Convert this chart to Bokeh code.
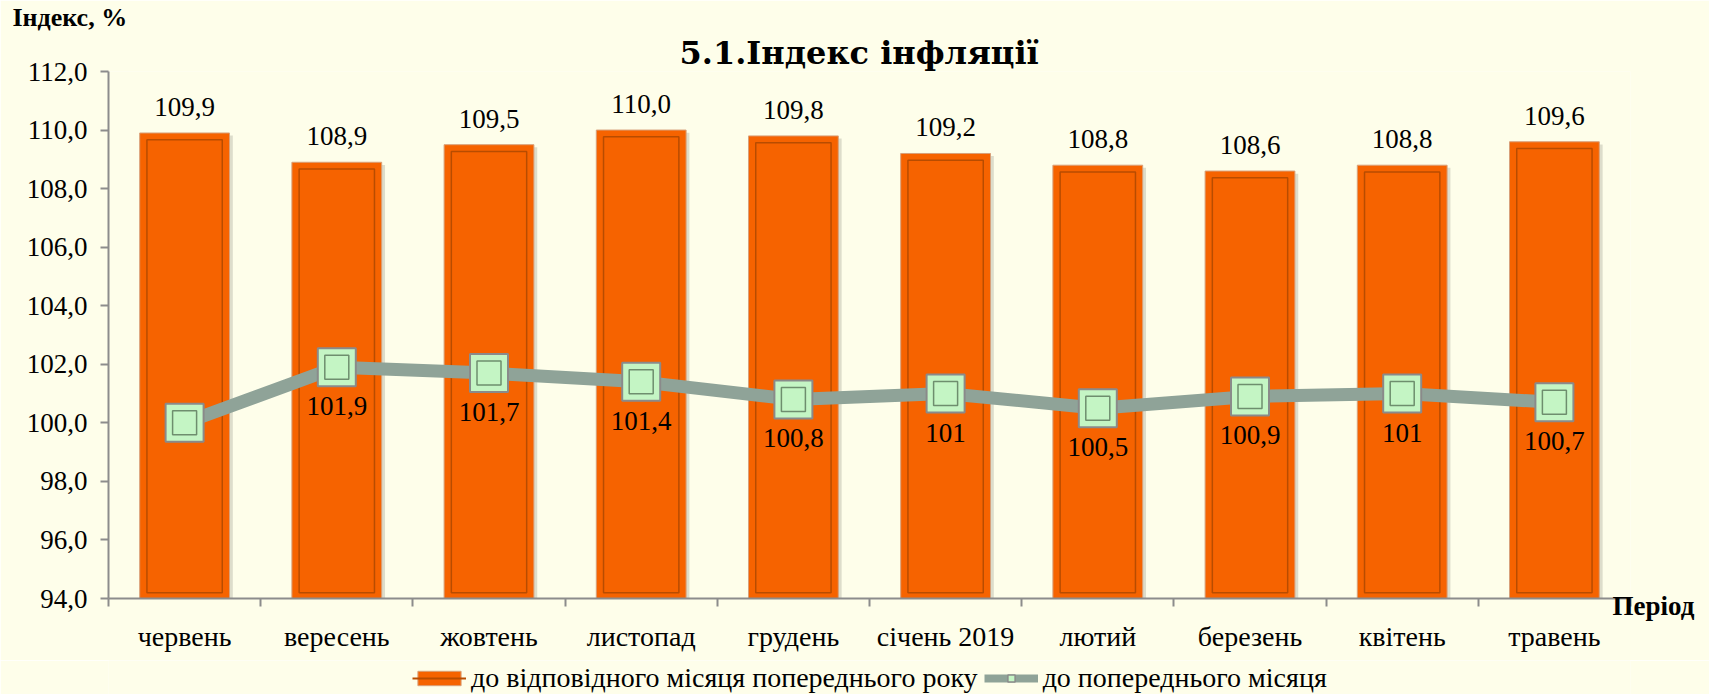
from bokeh.plotting import figure
from bokeh.layouts import column
from bokeh.models import (Range1d, FixedTicker, ColumnDataSource, LabelSet, Title,
                          Legend, LegendItem, LinearAxis)
from bokeh.core.properties import value
from bokeh.embed import file_html
from bokeh.resources import INLINE

# ---- data ----
months = ["червень", "вересень", "жовтень", "листопад", "грудень",
          "січень 2019", "лютий", "березень", "квітень", "травень"]
yoy = [109.9, 108.9, 109.5, 110.0, 109.8, 109.2, 108.8, 108.6, 108.8, 109.6]
mom = [100.0, 101.9, 101.7, 101.4, 100.8, 101.0, 100.5, 100.9, 101.0, 100.7]
mom_labels = ["", "101,9", "101,7", "101,4", "100,8", "101", "100,5", "100,9", "101", "100,7"]
y_ticks = [94, 96, 98, 100, 102, 104, 106, 108, 110, 112]
series_names = ["до відповідного місяця попереднього року", "до попереднього місяця"]

BG = "#FEFEEA"
ORANGE = "#F66300"
INNER = "#B84C00"
LINEC = "#8FA398"
MFILL = "#C4F5C4"
FONT = "'Liberation Serif', 'Times New Roman', serif"
TFONT = "'DejaVu Serif', serif"

xs = [i + 0.5 for i in range(len(months))]
yoy_labels = [f"{v:.1f}".replace(".", ",") for v in yoy]

src = ColumnDataSource(dict(
    x=xs, top=yoy, lab=yoy_labels,
    x_sh=[x + 0.022 for x in xs], top_sh=[t - 0.09 for t in yoy],
    top_in=[t - 0.23 for t in yoy],
    mom=mom, mlab=mom_labels,
))

p = figure(width=1709, height=660, output_backend="svg", toolbar_location=None,
           title="Індекс, %",
           x_range=Range1d(0, len(months)), y_range=Range1d(94, 112),
           min_border_left=108, min_border_right=79, min_border_top=70,
           min_border_bottom=62, background_fill_color=BG, border_fill_color=BG,
           outline_line_color=None)
p.xgrid.visible = False
p.ygrid.visible = False

p.title.align = "left"
p.title.offset = -96
p.title.standoff = 0
p.title.text_font = FONT
p.title.text_font_style = "bold"
p.title.text_font_size = "26px"
p.title.text_line_height = 0.85
p.title.text_color = "black"

p.add_layout(Title(text="5.1.Індекс інфляції", align="left", offset=571, standoff=0,
                   text_font=TFONT, text_font_style="bold", text_font_size="32px",
                   text_line_height=0.85, text_color="black"), "above")

# bar shadow
p.vbar(x="x_sh", top="top_sh", bottom=93, width=0.59, source=src,
       fill_color="#000000", fill_alpha=0.13, line_color=None)
p.vbar(x="x", top="top", bottom=93, width=0.59, source=src,
       fill_color=ORANGE, line_color="#D8A07A", line_width=1)
p.vbar(x="x", top="top_in", bottom=94.2, width=0.495, source=src,
       fill_color=None, line_color=INNER, line_width=1.5)

p.line(x="x", y="mom", source=src, line_color=LINEC, line_width=13, line_join="round")
p.scatter(x="x", y="mom", source=src, marker="square", size=38,
          fill_color=MFILL, line_color="#8A8A8A", line_width=2)
p.scatter(x="x", y="mom", source=src, marker="square", size=24,
          fill_color=None, line_color="#6E8E6E", line_width=1.5)

p.add_layout(LabelSet(x="x", y="top", text="lab", source=src, y_offset=26,
                      text_align="center", text_baseline="middle",
                      text_font=value(FONT), text_font_size="27px", text_color="black"))
p.add_layout(LabelSet(x="x", y="mom", text="mlab", source=src, y_offset=-39,
                      text_align="center", text_baseline="middle",
                      text_font=value(FONT), text_font_size="27px", text_color="black"))

# axes
p.yaxis.ticker = FixedTicker(ticks=y_ticks)
p.yaxis.major_label_overrides = {t: f"{t:.1f}".replace(".", ",") for t in y_ticks}
p.yaxis.minor_tick_line_color = None
p.yaxis.major_tick_out = 8
p.yaxis.major_tick_in = 0
p.yaxis.major_label_standoff = 13

p.xaxis.ticker = FixedTicker(ticks=xs, minor_ticks=list(range(len(months) + 1)))
p.xaxis.major_label_overrides = {x: m for x, m in zip(xs, months)}
p.xaxis.major_tick_out = 0
p.xaxis.major_tick_in = 0
p.xaxis.minor_tick_out = 8
p.xaxis.minor_tick_in = 0
p.xaxis.major_label_standoff = 14

for ax in (p.xaxis, p.yaxis):
    ax.axis_line_color = "#8C8C8C"
    ax.axis_line_width = 2
    ax.major_tick_line_color = "#8C8C8C"
    ax.major_tick_line_width = 2
    ax.major_label_text_font = FONT
    ax.major_label_text_color = "black"
p.yaxis.major_label_text_font_size = "27px"
p.xaxis.major_label_text_font_size = "28px"
p.xaxis.minor_tick_line_color = "#8C8C8C"
p.xaxis.minor_tick_line_width = 2

# x-axis title "Період" at the right end, via a tick-only right axis
per_axis = LinearAxis(ticker=FixedTicker(ticks=[y_ticks[0]]),
                      major_label_overrides={y_ticks[0]: "\nПеріод"},
                      axis_line_color=None, major_tick_line_color=None,
                      minor_tick_line_color=None, major_tick_out=0, major_tick_in=0,
                      major_label_standoff=-18,
                      major_label_text_font=FONT, major_label_text_font_style="bold",
                      major_label_text_font_size="27px", major_label_text_color="black",
                      major_label_text_line_height=0.5,
                      major_label_text_align="left")
p.add_layout(per_axis, "right")

# ---- legend strip (separate small figure, legend swatches only) ----
leg = figure(width=1709, height=34, output_backend="svg", toolbar_location=None,
             x_range=Range1d(0, 1), y_range=Range1d(0, 1), min_border=0,
             x_axis_location=None, y_axis_location=None,
             background_fill_color=BG, border_fill_color=BG, outline_line_color=None)
leg.grid.visible = False
# swatch-only renderers, placed outside the visible range
lb = leg.vbar(x=[0.5], top=[-5], bottom=-6, width=0.1, fill_color=ORANGE,
              line_color="#D8A07A")
lb2 = leg.line(x=[0.4, 0.6], y=[-5, -5], line_color=INNER, line_width=2)
ll = leg.line(x=[0.4, 0.6], y=[-5, -5], line_color=LINEC, line_width=8)
lm = leg.scatter(x=[0.5], y=[-5], marker="square", size=10, fill_color=MFILL,
                 line_color="#8A8A8A", line_width=1.5)

legend = Legend(items=[
    LegendItem(label=series_names[0], renderers=[lb, lb2]),
    LegendItem(label=series_names[1], renderers=[ll, lm]),
], location=(304, 0), orientation="horizontal", padding=0, margin=0,
    spacing=6, label_standoff=5, glyph_width=54, glyph_height=18, label_height=24,
    background_fill_alpha=0, border_line_color=None,
    label_text_font=FONT, label_text_font_size="28px", label_text_color="black")
leg.add_layout(legend)

layout = column(p, leg, spacing=0)
open("out.html", "w").write(file_html(layout, INLINE))
